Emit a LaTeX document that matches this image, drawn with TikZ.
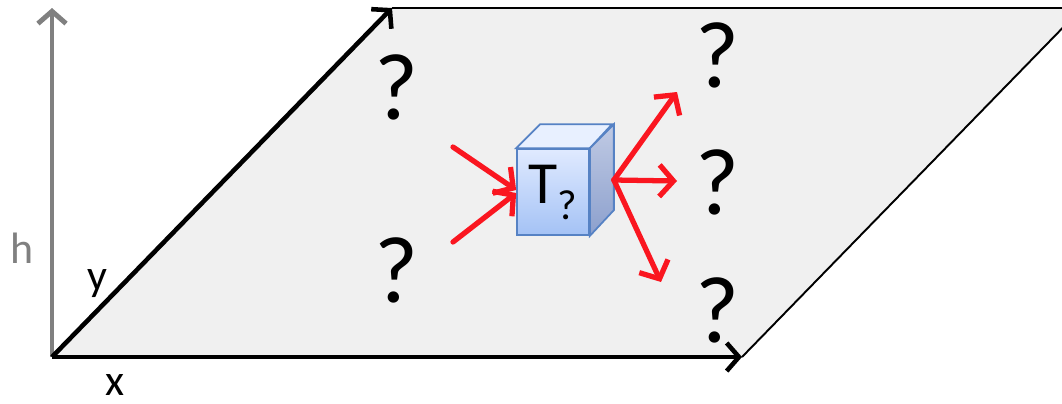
\documentclass[tikz,border=0pt]{standalone}
\usepackage{fontspec}
\setmainfont{Carlito}
\usetikzlibrary{arrows.meta,positioning,calc}

\definecolor{flowred}{RGB}{250,22,32}
\definecolor{cubeline}{RGB}{86,130,196}
\definecolor{planefill}{RGB}{240,240,240}

\begin{document}
\begin{tikzpicture}[
    x=0.02cm, y=-0.02cm,
    edge/.style={line width=2.6pt, -{Straight Barb[length=7pt, width=16pt]}},
    flow/.style={draw=flowred, line width=3pt, line cap=round, -{Straight Barb[length=8pt, width=18pt]}},
    qmark/.style={font=\fontsize{54}{60}\selectfont, inner sep=0pt},
    axlabel/.style={font=\fontsize{25}{28}\selectfont, inner sep=0pt},
  ]
    \useasboundingbox (0,0) rectangle (1062,403);

    % plane
    \coordinate (o) at (52,357);
    \coordinate (ytip) at (392,8);
    \coordinate (xtip) at (742,357);
    \coordinate (far) at (1082,8);
    \coordinate (htip) at (52,8);

    \fill[planefill] (o) -- (xtip) -- (far) -- (ytip) -- cycle;
    \draw[line width=1.1pt] (ytip) -- (far) -- (xtip);
    \draw[edge, draw=gray, line width=2.8pt] (o) -- (htip);
    \draw[edge] (o) -- (xtip);
    \draw[edge] (o) -- (ytip);

    \node[axlabel, text=gray] (hlab) at (22,248) {h};
    \node[axlabel] (ylab) at (97,284) {y};
    \node[axlabel] (xlab) at (115,385) {x};

    \node[qmark] (q1) at (396,87) {?};
    \node[qmark] (q2) at (396,270) {?};
    \node[qmark] (q3) at (717,55) {?};
    \node[qmark] (q4) at (717,182) {?};
    \node[qmark] (q5) at (717,310) {?};

    % cube
    \node[draw=cubeline, line width=1pt, top color={rgb,255:red,224;green,234;blue,255},
      bottom color={rgb,255:red,164;green,194;blue,245}, minimum width=1.44cm,
      minimum height=1.72cm, inner sep=0pt, font=\fontsize{34}{36}\selectfont] (cube) at (553,192)
      {T\raisebox{-0.32cm}{\fontsize{24}{25}\selectfont ?}};
    \filldraw[draw=cubeline, line width=1pt, fill={rgb,255:red,232;green,240;blue,255}]
      (cube.north west) -- ++(24,-24) -- ++(72,0) -- (cube.north east) -- cycle;
    \filldraw[draw=cubeline, line width=1pt, top color={rgb,255:red,192;green,202;blue,228},
      bottom color={rgb,255:red,140;green,160;blue,205}]
      (cube.north east) -- ++(24,-24) -- ++(0,86) -- (cube.south east) -- cycle;
    \coordinate (cubeback) at ($(cube.east)+(24,-12)$);

    \coordinate (in1) at (453,147);
    \coordinate (in2) at (453,242);
    \coordinate (out1) at (677,92);
    \coordinate (out2) at (677,181);
    \coordinate (out3) at (661,282);

    \draw[flow] (in1) -- ($(cube.west)+(0,-2)$);
    \draw[flow] (in2) -- ($(cube.west)+(0,1)$);
    \draw[flow] (cubeback) -- (out1);
    \draw[flow] (cubeback) -- (out2);
    \draw[flow] (cubeback) -- (out3);
  \end{tikzpicture}
\end{document}
